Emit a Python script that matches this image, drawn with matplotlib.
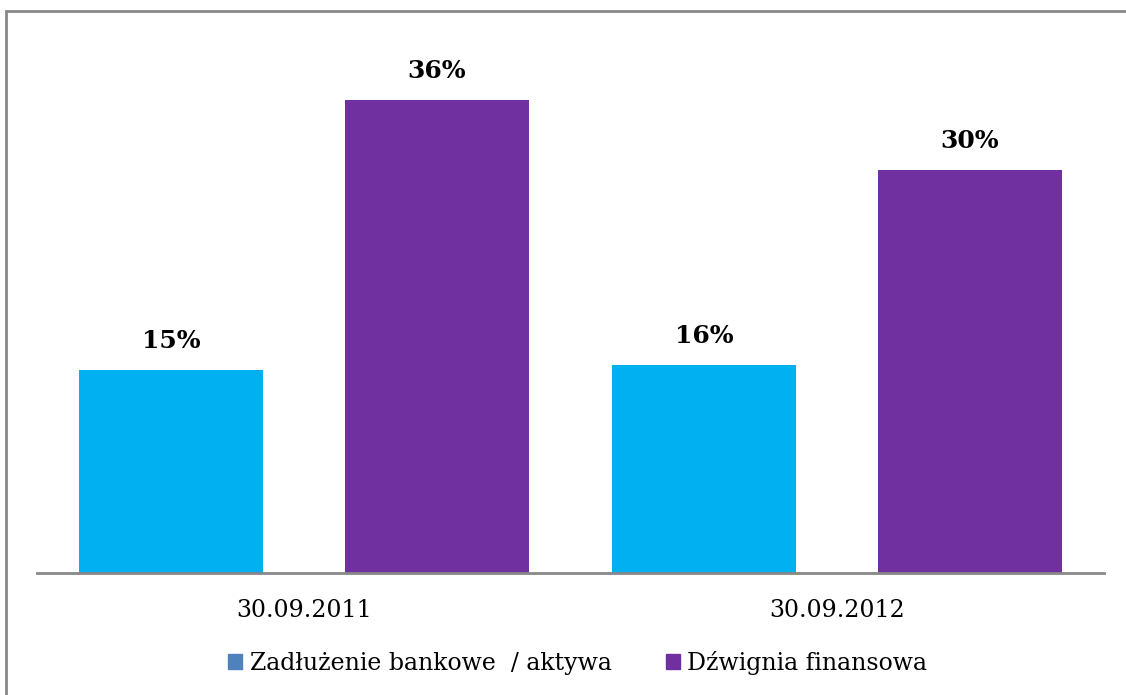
import matplotlib.pyplot as plt
from matplotlib.patches import Patch, Rectangle

# data
categories = ["30.09.2011", "30.09.2012"]
series_names = ["Zadłużenie bankowe  / aktywa", "Dźwignia finansowa"]
debt_values = [0.154, 0.158]
leverage_values = [0.359, 0.306]
debt_labels = ["15%", "16%"]
leverage_labels = ["36%", "30%"]

plt.rcParams['font.family'] = ['DejaVu Serif']

fig = plt.figure(figsize=(11.26, 6.95), dpi=100)
# outer border (only top/left visible in the crop)
fig.patches.append(Rectangle((6/1126, -0.1), 1.2, 1 - 11/695 + 0.1,
                             transform=fig.transFigure, fill=False,
                             edgecolor="#888888", linewidth=2))

ax = fig.add_axes([37/1126, 1 - 573/695, (1104 - 37)/1126, (573 - 46)/695])
x = range(len(categories))
w = 0.345
off = 0.249
b1 = ax.bar([i - off for i in x], debt_values, w, color="#00B0F0")
b2 = ax.bar([i + off for i in x], leverage_values, w, color="#7030A0")

for bars, labels in [(b1, debt_labels), (b2, leverage_labels)]:
    for bar, lab in zip(bars, labels):
        ax.text(bar.get_x() + bar.get_width()/2, bar.get_height() + 0.013, lab,
                ha="center", va="bottom", fontsize=18, fontweight="bold")

ax.set_xlim(-0.5, 1.5)
ax.set_ylim(0, 0.40)
ax.set_xticks(list(x))
ax.set_xticklabels(categories, fontsize=17)
ax.tick_params(axis="x", length=0, pad=19)
ax.set_yticks([])
for s in ["top", "right", "left"]:
    ax.spines[s].set_visible(False)
ax.spines["bottom"].set_color("#888888")
ax.spines["bottom"].set_linewidth(2)

handles = [Patch(color="#4F81BD"), Patch(color="#7030A0")]
fig.legend(handles, series_names, loc="center", bbox_to_anchor=(0.513, 1 - 663/695),
           ncol=2, frameon=False, fontsize=17, handlelength=0.6, handleheight=0.6,
           handletextpad=0.3, columnspacing=2.3)

fig.savefig("out.png", dpi=100)
